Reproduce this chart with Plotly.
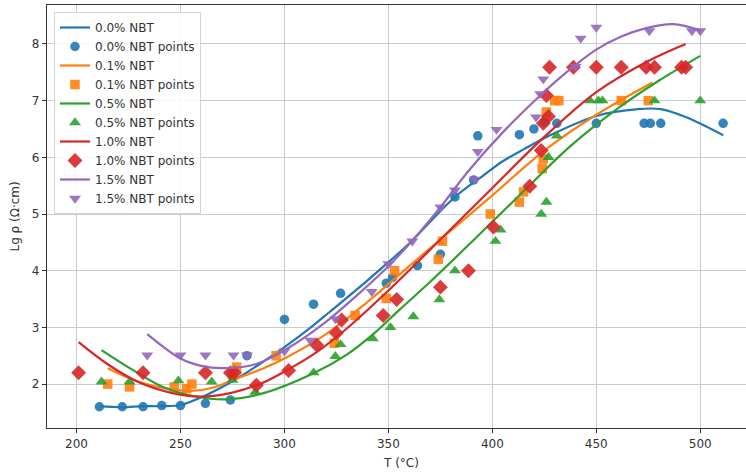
import plotly.graph_objects as go

# ---------------- data ----------------
labels = ["0.0% NBT", "0.1% NBT", "0.5% NBT", "1.0% NBT", "1.5% NBT"]

t_00 = [211, 222, 232, 241, 250, 262, 274, 282, 300, 314, 327, 349, 352, 364, 375, 382, 391, 393, 413, 420, 425, 431, 450, 473, 476, 481, 511]
lg_00 = [1.60, 1.60, 1.60, 1.62, 1.62, 1.66, 1.72, 2.50, 3.14, 3.41, 3.60, 3.78, 3.88, 4.09, 4.29, 5.30, 5.60, 6.38, 6.40, 6.50, 6.62, 6.60, 6.60, 6.60, 6.60, 6.60, 6.60]
fit_t_00 = [211, 222, 232, 241, 250, 262, 275, 288, 300, 311, 322, 340, 350, 360, 382, 395, 405, 415, 429, 450, 470, 481, 493, 511]
fit_lg_00 = [1.61, 1.59, 1.61, 1.61, 1.63, 1.80, 2.05, 2.35, 2.65, 2.95, 3.28, 3.83, 4.15, 4.48, 5.30, 5.66, 5.93, 6.14, 6.41, 6.73, 6.85, 6.85, 6.71, 6.39]

t_01 = [215, 225.5, 247, 253, 255.5, 275, 277, 296, 324, 334, 349, 353, 374, 376, 399, 413, 415, 424, 424.5, 426, 430, 432, 462, 475]
lg_01 = [2.00, 1.95, 1.95, 1.92, 2.00, 2.16, 2.30, 2.50, 2.72, 3.21, 3.51, 4.00, 4.20, 4.52, 5.00, 5.21, 5.39, 5.80, 5.97, 6.80, 7.00, 7.00, 7.00, 7.00]
fit_t_01 = [215, 230, 245, 255, 265, 275, 290, 300, 320, 340, 360, 375, 400, 425, 450, 477]
fit_lg_01 = [2.28, 2.04, 1.91, 1.88, 1.93, 2.07, 2.28, 2.45, 2.88, 3.45, 4.08, 4.55, 5.33, 6.12, 6.75, 7.32]

t_05 = [212, 225.5, 249, 265, 275, 286, 314, 324.5, 327, 342.5, 351, 362, 374.5, 382, 401.5, 404, 423.5, 426, 427, 431, 447, 451, 453, 478, 500]
lg_05 = [2.04, 2.04, 2.06, 2.04, 2.07, 1.86, 2.20, 2.49, 2.70, 2.80, 3.00, 3.19, 3.49, 4.00, 4.52, 4.72, 5.00, 5.21, 6.00, 6.38, 7.00, 7.00, 7.00, 7.00, 7.00]
fit_t_05 = [212, 227, 241.5, 257.5, 272, 290, 314, 330, 343, 355, 370, 391, 415, 437, 461, 480, 500]
fit_lg_05 = [2.60, 2.25, 1.95, 1.78, 1.73, 1.84, 2.19, 2.52, 2.89, 3.30, 3.80, 4.54, 5.40, 6.18, 6.88, 7.35, 7.79]

t_10 = [201, 232, 262, 274, 276, 286.5, 302, 315.5, 325, 327.5, 347.5, 354, 375, 388.5, 400.5, 418, 423.5, 424.5, 427, 426, 427.5, 439, 450, 462, 474, 478, 491, 493]
lg_10 = [2.20, 2.20, 2.20, 2.20, 2.20, 1.98, 2.24, 2.69, 2.90, 3.13, 3.21, 3.49, 3.71, 4.00, 4.77, 5.49, 6.12, 6.60, 6.72, 7.09, 7.59, 7.59, 7.59, 7.59, 7.59, 7.59, 7.59, 7.59]
fit_t_10 = [201, 215, 230, 245, 260, 275, 290, 300, 315, 330, 350, 375, 400, 425, 450, 475, 493]
fit_lg_10 = [2.74, 2.35, 2.03, 1.85, 1.78, 1.85, 2.03, 2.22, 2.55, 2.98, 3.65, 4.55, 5.46, 6.36, 7.15, 7.70, 8.00]

t_15 = [234, 250, 262, 275.5, 282, 300, 312.5, 324.5, 342, 350, 361.5, 375, 382, 391.5, 393, 402, 421, 423, 424.5, 440, 442.5, 450, 475.5, 496, 500]
lg_15 = [2.51, 2.51, 2.51, 2.51, 2.51, 2.58, 2.77, 3.15, 3.63, 4.12, 4.52, 5.12, 5.42, 5.61, 6.10, 6.49, 6.71, 7.12, 7.38, 7.60, 8.10, 8.29, 8.23, 8.23, 8.23]
fit_t_15 = [234, 250, 260, 270, 286, 302, 319, 335, 350, 362, 375, 389, 405, 421, 435, 450, 462, 474, 487, 500]
fit_lg_15 = [2.88, 2.45, 2.32, 2.28, 2.35, 2.64, 3.07, 3.57, 4.08, 4.55, 5.12, 5.78, 6.44, 7.02, 7.48, 7.90, 8.13, 8.28, 8.35, 8.24]

x_ticks = [200, 250, 300, 350, 400, 450, 500]
y_ticks = [2, 3, 4, 5, 6, 7, 8]

# ---------------- style ----------------
colors = ["#1f77b4", "#ff7f0e", "#2ca02c", "#d62728", "#9467bd"]
symbols = ["circle", "square", "triangle-up", "diamond", "triangle-down"]
msizes = [9.5, 9.5, 10.5, 11.5, 10.5]
FONT = "DejaVu Sans"
FS = 12

points = [(t_00, lg_00), (t_01, lg_01), (t_05, lg_05), (t_10, lg_10), (t_15, lg_15)]
fits = [(fit_t_00, fit_lg_00), (fit_t_01, fit_lg_01), (fit_t_05, fit_lg_05),
        (fit_t_10, fit_lg_10), (fit_t_15, fit_lg_15)]

fig = go.Figure()
for i, lab in enumerate(labels):
    ft, fl = fits[i]
    pt, pl = points[i]
    fig.add_trace(go.Scatter(
        x=ft, y=fl, mode="lines", name=lab,
        line=dict(color=colors[i], width=2.2, shape="spline", smoothing=1.0),
    ))
    fig.add_trace(go.Scatter(
        x=pt, y=pl, mode="markers", name=lab + " points",
        marker=dict(color=colors[i], symbol=symbols[i], size=msizes[i],
                    opacity=0.9, line=dict(width=0)),
    ))

W, H = 746, 474
ml, mr, mt, mb = 47, 0, 5, 46
pw = W - ml - mr
ph = H - mt - mb

axis_common = dict(
    showgrid=True, gridcolor="#cbcbcb", gridwidth=1,
    showline=True, linecolor="#333333", linewidth=1.2,
    ticks="outside", ticklen=4, tickcolor="#333333", tickwidth=1,
    tickfont=dict(family=FONT, size=FS, color="#333333"),
    zeroline=False,
)

fig.update_layout(
    width=W, height=H,
    margin=dict(l=ml, r=mr, t=mt, b=mb, pad=0),
    paper_bgcolor="white", plot_bgcolor="white",
    font=dict(family=FONT, size=FS, color="#333333"),
    xaxis=dict(range=[185.8, 522.0], tickvals=x_ticks, mirror=True, **axis_common),
    yaxis=dict(range=[1.225, 8.687], tickvals=y_ticks, mirror=False, **axis_common),
    legend=dict(
        x=(54 - ml) / pw, y=1 - (12 - mt) / ph, xanchor="left", yanchor="top",
        bgcolor="rgba(255,255,255,0.85)", bordercolor="#d5d5d5", borderwidth=1,
        font=dict(family=FONT, size=FS, color="#333333"),
        tracegroupgap=0,
    ),
    showlegend=True,
    annotations=[
        dict(text="T (°C)", xref="paper", yref="paper",
             x=(401 - ml) / pw, y=-(463 - (H - mb)) / ph,
             xanchor="center", yanchor="middle", showarrow=False,
             font=dict(family=FONT, size=FS, color="#333333")),
        dict(text="Lg ρ (Ω·cm)", xref="paper", yref="paper",
             x=(14 - ml) / pw, y=0.5, textangle=-90,
             xanchor="center", yanchor="middle", showarrow=False,
             font=dict(family=FONT, size=FS, color="#333333")),
    ],
)

fig.write_html("out.html")
